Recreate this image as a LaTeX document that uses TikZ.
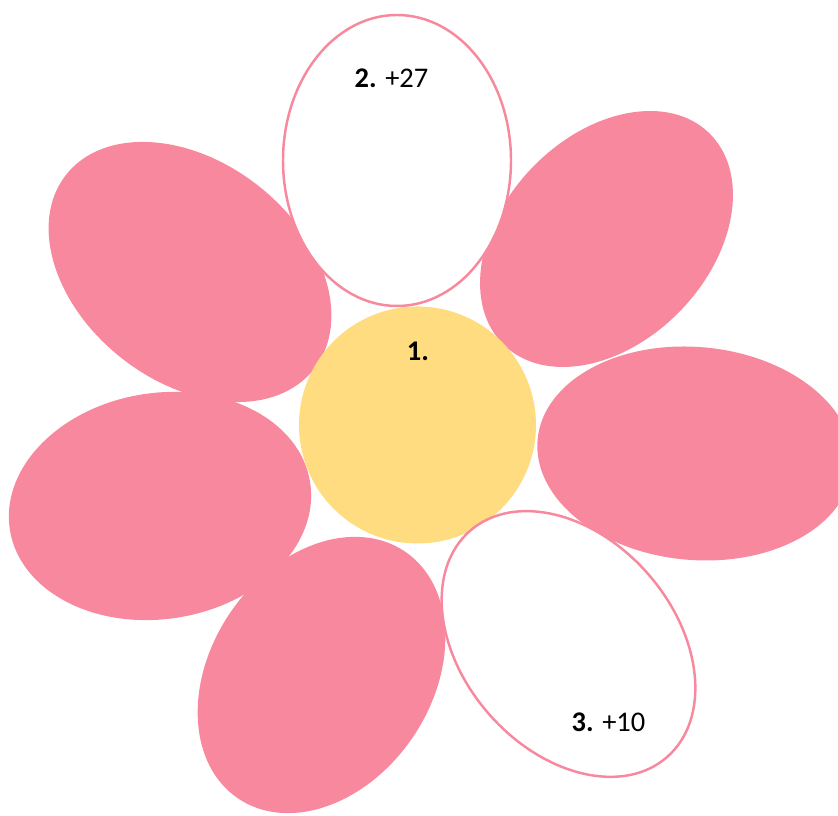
\documentclass[tikz,border=0pt]{standalone}
\usepackage{fontspec}
\setmainfont{Carlito}

\definecolor{petalo}{HTML}{F8889E}
\definecolor{centro}{HTML}{FFDC80}

\tikzset{
  petal/.style={fill=petalo},
  blank/.style={fill=white, draw=petalo, line width=1.4pt},
  tag/.style={inner sep=0pt, font=\fontsize{16.2}{19}\selectfont}
}

\begin{document}
\begin{tikzpicture}
            \useasboundingbox (0,0) rectangle (16.76,16.32);
            \clip (0,0) rectangle (16.76,16.32);

            % Petali pieni
            \fill[petal, rotate around={-38:(3.80,10.88)}] (3.80,10.88) ellipse [x radius=3.15, y radius=2.20];
            \fill[petal, rotate around={46:(12.13,11.54)}] (12.13,11.54) ellipse [x radius=2.95, y radius=2.06];
            \fill[petal, rotate around={-5:(13.90,7.25)}] (13.90,7.25) ellipse [x radius=3.16, y radius=2.13];
            \fill[petal, rotate around={9:(3.20,6.20)}] (3.20,6.20) ellipse [x radius=3.04, y radius=2.26];
            \fill[petal, rotate around={56:(6.43,2.82)}] (6.43,2.82) ellipse [x radius=2.98, y radius=2.21];

            % Centro
            \fill[centro] (8.35,7.82) circle (2.37);

            % Petali vuoti
            \draw[blank] (7.94,13.11) ellipse [x radius=2.28, y radius=2.91];
            \draw[blank, rotate around={-49:(11.37,3.44)}] (11.37,3.44) ellipse [x radius=3.00, y radius=2.12];

            % Testi
            \node[tag] (two) at (7.83,14.76) {\textbf{2.} +27};
            \node[tag] (one) at (8.36,9.30) {\textbf{1.}};
            \node[tag] (three) at (12.17,1.88) {\textbf{3.} +10};

\end{tikzpicture}
\end{document}
